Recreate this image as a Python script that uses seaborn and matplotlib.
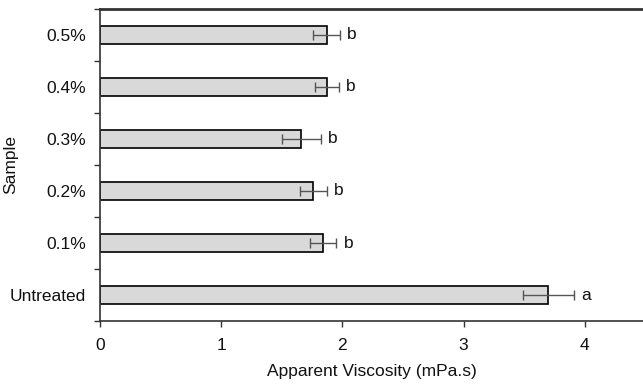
import numpy as np
import pandas as pd
import seaborn as sns
import matplotlib.pyplot as plt
from matplotlib.ticker import FixedLocator

# values (top to bottom)
samples = ["0.5%", "0.4%", "0.3%", "0.2%", "0.1%", "Untreated"]
viscosity = [1.87, 1.87, 1.66, 1.76, 1.84, 3.70]
sd = [0.11, 0.10, 0.16, 0.11, 0.11, 0.21]
letters = ["b", "b", "b", "b", "b", "a"]

df = pd.DataFrame({"Sample": samples, "Viscosity": viscosity, "SD": sd})

sns.set_style("ticks")
plt.rcParams["font.family"] = ["Liberation Sans", "DejaVu Sans"]
plt.rcParams["font.size"] = 12.5

fig = plt.figure(figsize=(6.43, 3.85), dpi=100)
ax = fig.add_axes([0.1555, 0.166, 0.8445, 0.811])

sns.barplot(data=df, y="Sample", x="Viscosity", order=samples, orient="h",
            color="#d9d9d9", edgecolor="black", linewidth=1.2, width=0.36,
            saturation=1, errorbar=None, ax=ax)

pos = np.arange(len(samples))
ax.errorbar(df["Viscosity"], pos, xerr=df["SD"], fmt="none", ecolor="#555555",
            elinewidth=1.0, capsize=3.5, capthick=1.0)

for y, v, e, t in zip(pos, viscosity, sd, letters):
    ax.text(v + e + 0.06, y, t, va="center", ha="left", fontsize=12.5, color="#111111")

ax.set_xlim(0, 4.48)
ax.set_ylim(len(samples) - 0.5, -0.5)
ax.set_xticks([0, 1, 2, 3, 4])
ax.yaxis.set_minor_locator(FixedLocator(np.arange(-0.5, len(samples), 1.0)))
ax.tick_params(axis="y", which="major", length=0, pad=10)
ax.tick_params(axis="y", which="minor", length=4, width=1.0, color="#333333")
ax.tick_params(axis="x", length=4, width=1.0, color="#333333", pad=8)
ax.tick_params(labelsize=12.5, labelcolor="#111111")

ax.set_xlabel("Apparent Viscosity (mPa.s)", fontsize=12.5, color="#111111", labelpad=8)
ax.set_ylabel("Sample", fontsize=12.5, color="#111111")
ax.yaxis.set_label_coords(-0.151, 0.5)

ax.spines["right"].set_visible(False)
ax.spines["top"].set_linewidth(2.0)
for s in ["left", "bottom"]:
    ax.spines[s].set_linewidth(1.2)
for s in ax.spines.values():
    s.set_color("#333333")

fig.savefig("out.png", dpi=100)
